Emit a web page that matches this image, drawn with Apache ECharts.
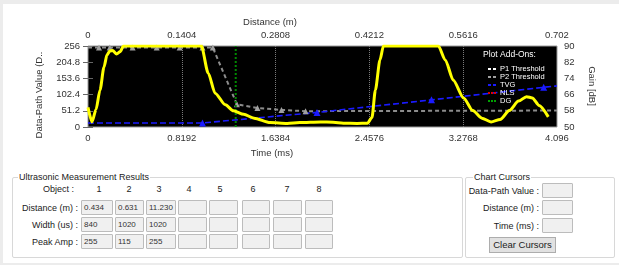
<!DOCTYPE html>
<html>
<head>
<meta charset="UTF-8">
<title>Ultrasonic Measurement</title>
<script src="https://cdn.jsdelivr.net/npm/echarts@6/dist/echarts.min.js"></script>
<style>
body{margin:0;background:#ececec;font-family:"Liberation Sans",Arial,sans-serif;font-size:9px;color:#222;}
#page{position:absolute;left:3px;top:4px;width:616px;height:259px;background:#fff;}
#main{position:absolute;left:0;top:0;width:619px;height:170px;}
.grp{position:absolute;box-sizing:border-box;border:1px solid #d8d8d8;border-radius:2px;}
.grp-title{position:absolute;top:-7px;background:#fff;padding:0 1px;line-height:12px;}
.lbl{position:absolute;left:0;text-align:right;white-space:nowrap;line-height:12px;}
.hdr{position:absolute;width:20px;margin-left:-10px;text-align:center;line-height:12px;}
.box{position:absolute;box-sizing:border-box;height:15px;background:#f0f0f0;border:1px solid #bcbcbc;border-radius:1px;padding-left:2px;line-height:13px;font-size:8px;color:#333;}
.btn{position:absolute;box-sizing:border-box;left:489px;top:237px;width:67px;height:16px;background:#e1e1e1;border:1px solid #adadad;text-align:center;line-height:14px;font-size:9.5px;}
</style>
</head>
<body>
<div id="page"></div>
<div id="main"></div>
<div id="form"></div>
<script type="text/javascript">
// axis ticks
var timeTicks = [0, 0.8192, 1.6384, 2.4576, 3.2768, 4.096];
var distTicks = [0, 0.1404, 0.2808, 0.4212, 0.5616, 0.702];
var valueTicks = [0, 51.2, 102.4, 153.6, 204.8, 256];
var gainTicks = [50, 58, 66, 74, 82, 90];

// data-path echo (ms, value)
var echoTime = [0, 0.035, 0.07, 0.105, 0.14, 0.166, 0.19, 0.215, 0.25, 0.28, 0.31, 0.99, 1.05, 1.11, 1.2, 1.27, 1.36, 1.45, 1.59, 1.74, 1.85, 2.03, 2.14, 2.23, 2.35, 2.44, 2.48, 2.51, 2.55, 2.58, 3.06, 3.12, 3.19, 3.28, 3.36, 3.44, 3.52, 3.6, 3.68, 3.76, 3.83, 3.88, 3.94, 4.02];
var echoValue = [62, 16, 55, 117, 190, 228, 240, 242, 231, 238, 256, 256, 170, 107, 70, 51, 40, 28, 14, 11, 14, 16, 15, 12, 11, 12, 30, 117, 212, 256, 256, 212, 148, 92, 52, 28, 16, 24, 52, 82, 96, 92, 68, 32];

// P2 threshold (ms, value)
var p2Time = [0, 0.096, 0.19, 0.39, 0.6, 0.8, 1.0, 1.09, 1.3, 1.48, 1.69, 1.9, 4.096];
var p2Value = [251, 251, 251, 251, 251, 251, 251, 251, 72, 60, 54, 50, 52];

// TVG gain (ms, dB)
var tvgTime = [0, 1.0, 2.0, 3.0, 3.98, 4.096];
var tvgGain = [52, 52, 57.2, 63.4, 69.6, 70.3];

// DG marker (ms)
var dgTime = [1.29, 1.29];
var dgValue = [0, 256];

// results table
var objectNums = ['1', '2', '3', '4', '5', '6', '7', '8'];
var distanceVals = ['0.434', '0.631', '11.230', '', '', '', '', ''];
var widthVals = ['840', '1020', '1020', '', '', '', '', ''];
var peakVals = ['255', '115', '255', '', '', '', '', ''];
var rowLabels = ['Distance (m) :', 'Width (us) :', 'Peak Amp :'];
var cursorLabels = ['Data-Path Value :', 'Distance (m) :', 'Time (ms) :'];

function pairs(xs, ys){
	return xs.map(function(x, i){ return [x, ys[i]]; });
}
function edgeSymbol(name, len){
	return function(v, p){ return (p.dataIndex === 0 || p.dataIndex === len - 1) ? 'none' : name; };
}

var font = 'Liberation Sans, Arial, sans-serif';
var myChart = echarts.init(document.getElementById('main'));
var option = {
	animation: false,
	textStyle: {fontFamily: font},
	grid: {
		left: 88, top: 46, width: 469, height: 81,
		show: true, backgroundColor: '#000', borderColor: '#9a9a9a', borderWidth: 1,
		outerBoundsMode: 'none'
	},
	xAxis: [
		{
			type: 'value', position: 'bottom',
			min: timeTicks[0], max: timeTicks[timeTicks.length - 1], interval: timeTicks[1],
			axisLine: {show: false}, axisTick: {show: false},
			axisLabel: {fontSize: 9.5, color: '#333', margin: 6, fontFamily: font},
			splitLine: {show: true, showMinLine: false, showMaxLine: false, lineStyle: {color: '#7a7a7a', type: 'dotted', width: 1}}
		},
		{
			type: 'value', position: 'top',
			min: distTicks[0], max: distTicks[distTicks.length - 1], interval: distTicks[1],
			axisLine: {show: false}, axisTick: {show: false},
			axisLabel: {fontSize: 9.5, color: '#333', margin: 6, fontFamily: font},
			splitLine: {show: false}
		}
	],
	yAxis: [
		{
			type: 'value', position: 'left',
			min: valueTicks[0], max: valueTicks[valueTicks.length - 1], interval: valueTicks[1],
			axisLine: {show: false},
			axisTick: {show: true, length: 5, lineStyle: {color: '#666'}},
			axisLabel: {fontSize: 9.5, color: '#333', margin: 8, fontFamily: font},
			splitLine: {show: false}
		},
		{
			type: 'value', position: 'right',
			min: gainTicks[0], max: gainTicks[gainTicks.length - 1],
			axisLine: {show: false},
			axisTick: {show: true, length: 5, customValues: gainTicks, lineStyle: {color: '#666'}},
			axisLabel: {fontSize: 9.5, color: '#333', margin: 7, customValues: gainTicks, fontFamily: font},
			splitLine: {show: false}
		}
	],
	legend: {
		orient: 'vertical', left: 483, top: 60,
		itemWidth: 8, itemHeight: 2, itemGap: 0,
		selectedMode: false,
		textStyle: {color: '#fff', fontSize: 7.5, fontFamily: font, padding: [0, 0, 0, -1]},
		itemStyle: {borderWidth: 0},
		data: [
			{name: 'P1 Threshold', icon: 'path://M0,0h3v2h-3zM5,0h3v2h-3z', itemStyle: {color: '#fff'}},
			{name: 'P2 Threshold', icon: 'path://M0,0h3v2h-3zM5,0h3v2h-3z', itemStyle: {color: '#a0a0a0'}},
			{name: 'TVG', icon: 'path://M0,0h3v2h-3zM5,0h3v2h-3z', itemStyle: {color: '#1a1aff'}},
			{name: 'NLS', icon: 'path://M0,0h2v2h-2zM3,0h2v2h-2zM6,0h2v2h-2z', itemStyle: {color: '#e00000'}},
			{name: 'DG', icon: 'path://M0,0h2v2h-2zM3,0h2v2h-2zM6,0h2v2h-2z', itemStyle: {color: '#00a000'}}
		]
	},
	graphic: [
		{type: 'text', x: 270, y: 22, style: {text: 'Distance (m)', fill: '#333', fontSize: 9.5, fontFamily: font, align: 'center', verticalAlign: 'middle'}},
		{type: 'text', x: 272, y: 153, style: {text: 'Time (ms)', fill: '#333', fontSize: 9.5, fontFamily: font, align: 'center', verticalAlign: 'middle'}},
		{type: 'text', x: 39, y: 95, rotation: Math.PI / 2, style: {text: 'Data-Path Value (D..', fill: '#333', fontSize: 9.5, fontFamily: font, align: 'center', verticalAlign: 'middle'}},
		{type: 'text', x: 592, y: 86, rotation: -Math.PI / 2, style: {text: 'Gain [dB]', fill: '#333', fontSize: 9.5, fontFamily: font, align: 'center', verticalAlign: 'middle'}},
		{type: 'text', x: 483, y: 55, z: 100, style: {text: 'Plot Add-Ons:', fill: '#fff', fontSize: 8.5, fontFamily: font, verticalAlign: 'middle'}}
	],
	series: [
		{
			name: 'P1 Threshold', type: 'line', data: [],
			color: '#fff', symbol: 'none', lineStyle: {type: 'dashed', width: 2}
		},
		{
			name: 'P2 Threshold', type: 'line', z: 3,
			data: pairs(p2Time, p2Value),
			color: '#a0a0a0', showAllSymbol: true,
			symbol: edgeSymbol('triangle', p2Time.length), symbolSize: 6,
			itemStyle: {color: '#a0a0a0'},
			lineStyle: {color: '#8c8c8c', type: [4, 3], width: 2}
		},
		{
			name: 'TVG', type: 'line', yAxisIndex: 1, z: 3,
			data: pairs(tvgTime, tvgGain),
			color: '#1a1aff', showAllSymbol: true,
			symbol: edgeSymbol('triangle', tvgTime.length), symbolSize: 7,
			itemStyle: {color: '#1a1aff'},
			lineStyle: {type: [6, 3], width: 1.6}
		},
		{
			name: 'NLS', type: 'line', data: [],
			color: '#e00000', symbol: 'none', lineStyle: {type: 'dotted', width: 2}
		},
		{
			name: 'DG', type: 'line', z: 4,
			data: pairs(dgTime, dgValue),
			color: '#008a00', symbol: 'none',
			lineStyle: {type: [2, 2], width: 2}
		},
		{
			name: 'Data-Path', type: 'line', z: 5,
			data: pairs(echoTime, echoValue),
			color: '#ffff00', symbol: 'none', smooth: 0.25, smoothMonotone: 'x',
			lineStyle: {width: 3}
		}
	]
};
myChart.setOption(option);

// form below the chart
var form = document.getElementById('form');
function add(html){ form.insertAdjacentHTML('beforeend', html); }

add('<div class="grp" style="left:12px;top:177px;width:451px;height:81px;"><div class="grp-title" style="left:5px;">Ultrasonic Measurement Results</div></div>');
add('<div class="lbl" style="width:74px;top:183px;">Object :</div>');
var hdrX = [99, 129, 159, 189, 220, 253, 287, 319];
var boxX = [81, 115, 146, 178, 209, 242, 273, 305];
var boxW = [32, 29, 30, 29, 29, 28, 29, 28];
var rowY = [200, 217, 234];
var rows = [distanceVals, widthVals, peakVals];
objectNums.forEach(function(n, i){
	add('<div class="hdr" style="left:' + hdrX[i] + 'px;top:183px;">' + n + '</div>');
});
rowLabels.forEach(function(t, r){
	add('<div class="lbl" style="width:78px;top:' + (rowY[r] + 1.5) + 'px;">' + t + '</div>');
	rows[r].forEach(function(v, i){
		add('<div class="box" style="left:' + boxX[i] + 'px;top:' + rowY[r] + 'px;width:' + boxW[i] + 'px;">' + v + '</div>');
	});
});

add('<div class="grp" style="left:465px;top:177px;width:150px;height:81px;"><div class="grp-title" style="left:7px;">Chart Cursors</div></div>');
var curY = [183, 200, 218];
cursorLabels.forEach(function(t, r){
	add('<div class="lbl" style="width:539px;top:' + (curY[r] + 1.5) + 'px;">' + t + '</div>');
	add('<div class="box" style="left:542px;top:' + curY[r] + 'px;width:31px;"></div>');
});
add('<div class="btn">Clear Cursors</div>');
</script>
</body>
</html>
